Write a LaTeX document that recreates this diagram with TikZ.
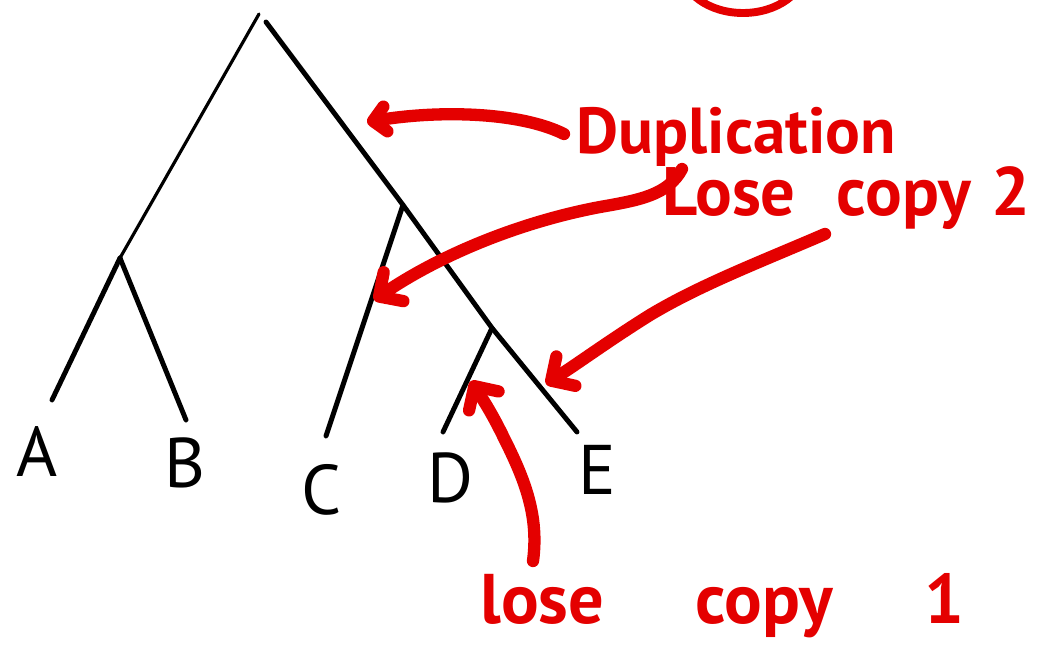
\documentclass[tikz,border=0pt]{standalone}
\usepackage{fontspec}
\setmainfont{PT Sans}
\usetikzlibrary{arrows.meta, calc}

\definecolor{pen}{RGB}{228,0,0}

\begin{document}
\begin{tikzpicture}[
    x=0.02cm, y=-0.02cm,
    branch/.style={draw=black, line width=2.8pt, line cap=round},
    leaf/.style={font=\fontsize{40}{40}\selectfont, inner sep=0pt},
    note/.style={text=pen, font=\fontsize{37}{37}\selectfont\bfseries,
        inner sep=0pt, anchor=base west},
    marker/.style={draw=pen, line width=7pt, line cap=round, line join=round,
        -{Straight Barb[length=3.5mm, width=7mm, round]}}
]

\clip (0,0) rectangle (1049,645);
\fill[white] (0,0) rectangle (1049,645);

\coordinate (root) at (259,14);
\coordinate (ab) at (120,258);
\coordinate (dup) at (403,205);
\coordinate (de) at (492,328);
\coordinate (la) at (52,400);
\coordinate (lb) at (186,420);
\coordinate (lc) at (326,436);
\coordinate (ld) at (443,432);
\coordinate (le) at (577,432);

\node[leaf] (A) at (37,452) {A};
\node[leaf] (B) at (185,463) {B};
\node[leaf] (C) at (322,490) {C};
\node[leaf] (D) at (450,478) {D};
\node[leaf] (E) at (597,470) {E};

\draw[branch, line width=1.8pt] (root) -- (ab);
\draw[branch] ($(root)+(7,8)$) -- (dup) -- (de) -- (le);
\draw[branch] (ab) -- (la);
\draw[branch] (ab) -- (lb);
\draw[branch] (dup) -- (lc);
\draw[branch] (de) -- (ld);

\draw[draw=pen, line width=4.5pt] (743,-32) ellipse [x radius=62, y radius=45];

\node[note] (dupnote) at (576,154) {Duplication};
\node[note, font=\fontsize{39}{39}\selectfont\bfseries] (lose2) at (662,216)
    {Lose\hspace{0.6em}copy\hspace{0.3em}2};
\node[note, font=\fontsize{40}{40}\selectfont\bfseries] (lose1) at (480,623)
    {lose\hspace{1.3em}copy\hspace{1.3em}1};

\coordinate (hitdup) at (367,122);
\coordinate (hitc) at (374,300);
\coordinate (hite) at (546,384);
\coordinate (hitd) at (471,381);

\draw[marker, -{Straight Barb[length=2.5mm, width=5mm, round]}]
    ($(dupnote.base west)+(-12,-20)$) .. controls (520,112) and (440,110) .. (hitdup);
\draw[marker] ($(lose2.base west)+(20,-47)$) .. controls (668,195) and (640,200) .. (600,207)
    .. controls (520,222) and (440,255) .. (hitc);
\draw[marker] ($(lose2.base west)+(163,18)$) .. controls (760,262) and (700,285) .. (650,315)
    .. controls (610,340) and (580,362) .. (hite);
\draw[marker] ($(lose1.base west)+(53,-62)$) .. controls (540,510) and (520,470) .. (500,430)
    .. controls (490,410) and (480,395) .. (hitd);

\end{tikzpicture}
\end{document}
